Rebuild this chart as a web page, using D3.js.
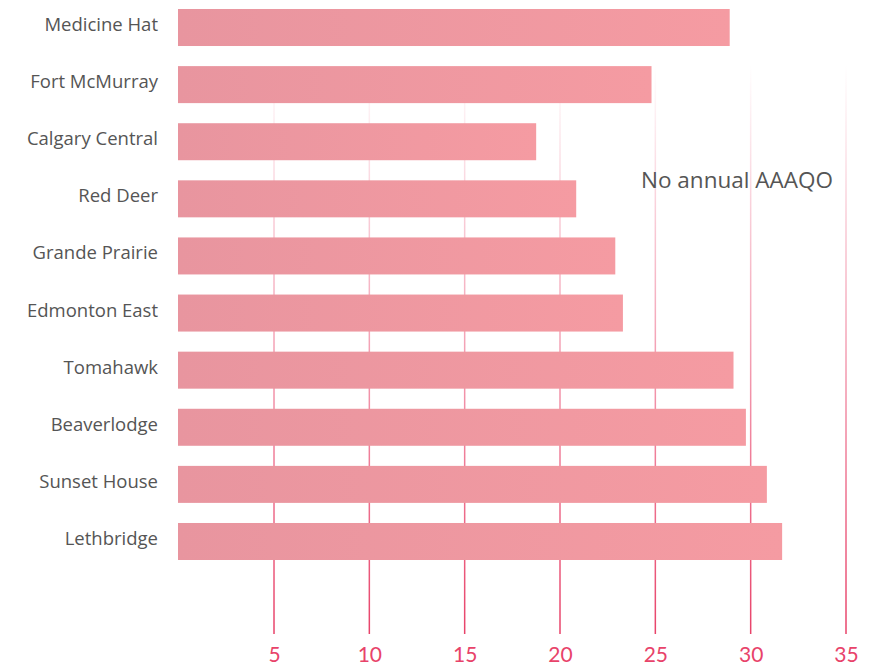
<!DOCTYPE html>
<html>
<head>
<meta charset="utf-8">
<script src="https://cdn.jsdelivr.net/npm/d3@7"></script>
<style>
  body { margin: 0; background: #fff; }
  svg { display: block; }
</style>
</head>
<body>
<svg id="vis"></svg>
<script>
// datos
const stations = ["Medicine Hat", "Fort McMurray", "Calgary Central", "Red Deer", "Grande Prairie",
    "Edmonton East", "Tomahawk", "Beaverlodge", "Sunset House", "Lethbridge"];
const values = [28.9, 24.8, 18.75, 20.85, 22.9, 23.3, 29.1, 29.75, 30.85, 31.65];
const tickValues = [5, 10, 15, 20, 25, 30, 35];
const noteText = "No annual AAAQO";
const noteX = 24.25;

const WIDTH = 879;
const HEIGHT = 666;

const svg = d3.select("#vis")
    .attr("width", WIDTH)
    .attr("height", HEIGHT);

const defs = svg.append("defs");

// gradiente de las barras
const barGrad = defs.append("linearGradient")
    .attr("id", "barGrad")
    .attr("x1", "0%").attr("x2", "100%");
barGrad.append("stop").attr("offset", "0%").attr("stop-color", "#e8959f");
barGrad.append("stop").attr("offset", "100%").attr("stop-color", "#f59ba2");

// gradiente de las lineas verticales
const gridGrad = defs.append("linearGradient")
    .attr("id", "gridGrad")
    .attr("gradientUnits", "userSpaceOnUse")
    .attr("x1", 0).attr("x2", 0)
    .attr("y1", 65).attr("y2", 634);
gridGrad.append("stop").attr("offset", "0%").attr("stop-color", "#e8436a").attr("stop-opacity", 0);
gridGrad.append("stop").attr("offset", "100%").attr("stop-color", "#e8436a").attr("stop-opacity", 1);

const x = d3.scaleLinear().domain([0, 35]).range([178.67, 846]);
const y = d3.scaleBand().domain(stations).range([9, 560]).paddingInner(0.352).paddingOuter(0);

// lineas de la grilla
svg.append("g")
    .selectAll("rect")
    .data(tickValues)
    .join("rect")
    .attr("x", d => x(d) - 0.75)
    .attr("y", 65)
    .attr("width", 1.5)
    .attr("height", 634 - 65)
    .attr("fill", "url(#gridGrad)");

// barras
svg.append("g")
    .selectAll("rect")
    .data(values)
    .join("rect")
    .attr("x", x(0) - 0.67)
    .attr("y", (d, i) => y(stations[i]))
    .attr("width", d => x(d) - x(0) + 0.67)
    .attr("height", y.bandwidth())
    .attr("fill", "url(#barGrad)");

// etiquetas de las estaciones
svg.append("g")
    .selectAll("text")
    .data(stations)
    .join("text")
    .attr("x", 158)
    .attr("y", d => y(d) + y.bandwidth() / 2 - 3)
    .attr("dy", "0.35em")
    .attr("text-anchor", "end")
    .attr("font-family", "'Open Sans', sans-serif")
    .attr("font-size", 18.5)
    .attr("fill", "#555")
    .text(d => d);

// eje X
const ejeX = d3.axisBottom(x).tickValues(tickValues).tickSize(0).tickPadding(0);
const gx = svg.append("g")
    .attr("transform", "translate(0, 647)")
    .call(ejeX);
gx.select(".domain").remove();
gx.selectAll("text")
    .attr("dy", "0.71em")
    .attr("font-family", "Lato, sans-serif")
    .attr("font-size", 21)
    .attr("fill", "#e8436a");

// nota
svg.append("text")
    .attr("x", x(noteX))
    .attr("y", 180)
    .attr("dy", "0.35em")
    .attr("font-family", "'Open Sans', sans-serif")
    .attr("font-size", 22.5)
    .attr("fill", "#555")
    .text(noteText);
</script>
</body>
</html>
